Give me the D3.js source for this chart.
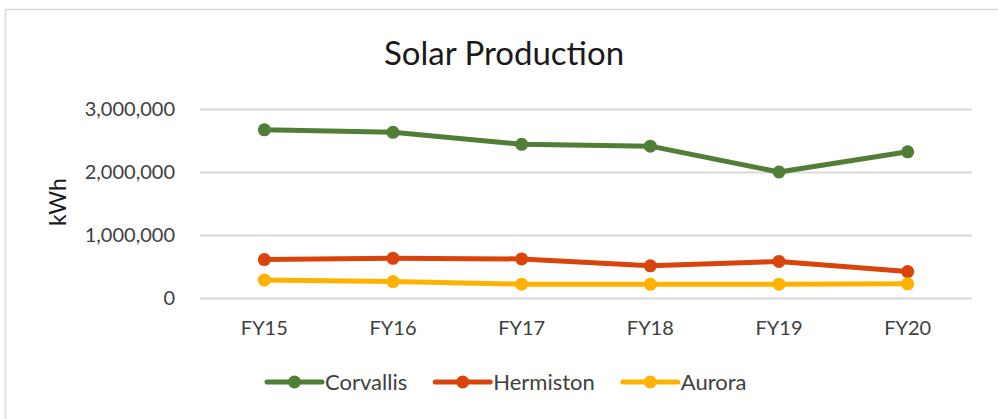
<!DOCTYPE html>
<html>
<head>
<meta charset="utf-8">
<script src="https://cdn.jsdelivr.net/npm/d3@7"></script>
<style>
  body { margin: 0; background: #fff; }
  text { font-family: Lato, "Liberation Sans", sans-serif; }
</style>
</head>
<body>
<div id="chart"></div>
<script>
// datos
var years = ["FY15", "FY16", "FY17", "FY18", "FY19", "FY20"];
var corvallis = [2670000, 2630000, 2440000, 2410000, 2000000, 2320000];
var hermiston = [610000, 630000, 620000, 510000, 580000, 420000];
var aurora = [285000, 260000, 220000, 217000, 220000, 225000];
var yTicks = [0, 1000000, 2000000, 3000000];

var series = [
  { name: "Corvallis", values: corvallis, color: "#507e36" },
  { name: "Hermiston", values: hermiston, color: "#d9440c" },
  { name: "Aurora", values: aurora, color: "#ffb300" }
];

var W = 998, H = 419;
var plotL = 200, plotR = 972, plotT = 109, plotB = 298;

var svg = d3.select("#chart").append("svg")
    .attr("width", W)
    .attr("height", H);

// marco
svg.append("rect")
    .attr("x", 5.5).attr("y", 9.5)
    .attr("width", 1000).attr("height", 420)
    .attr("fill", "none")
    .attr("stroke", "#d9d9d9")
    .attr("stroke-width", 1.5);

var x = d3.scaleBand().domain(years).range([plotL, plotR]);
var y = d3.scaleLinear().domain([0, 3000000]).range([plotB, plotT]);
var cx = function(d) { return x(d) + x.bandwidth() / 2; };

// titulo
svg.append("text")
    .attr("x", 504).attr("y", 65)
    .attr("text-anchor", "middle")
    .attr("font-size", 33)
    .attr("fill", "#1a1a1a")
    .text("Solar Production");

// eje Y con lineas de cuadricula
var gy = svg.append("g")
    .attr("transform", "translate(" + plotL + ",0)")
    .call(d3.axisLeft(y).tickValues(yTicks).tickFormat(d3.format(","))
        .tickSize(-(plotR - plotL)).tickPadding(25));
gy.select(".domain").remove();
gy.selectAll(".tick line").attr("stroke", "#d9d9d9").attr("stroke-width", 2);
gy.selectAll(".tick text").attr("font-size", 20).attr("fill", "#404040")
    .attr("font-family", "Lato, sans-serif");

// eje X
var gx = svg.append("g")
    .attr("transform", "translate(0," + plotB + ")")
    .call(d3.axisBottom(x).tickSize(0).tickPadding(23));
gx.select(".domain").remove();
gx.selectAll(".tick text").attr("font-size", 20).attr("fill", "#404040")
    .attr("font-family", "Lato, sans-serif");

// etiqueta eje Y
svg.append("text")
    .attr("transform", "translate(66,202) rotate(-90)")
    .attr("text-anchor", "middle")
    .attr("font-size", 23)
    .attr("fill", "#1a1a1a")
    .text("kWh");

// lineas
var line = d3.line()
    .x(function(d, i) { return cx(years[i]); })
    .y(function(d) { return y(d); });

series.forEach(function(s) {
  var g = svg.append("g");
  g.append("path")
      .datum(s.values)
      .attr("d", line)
      .attr("fill", "none")
      .attr("stroke", s.color)
      .attr("stroke-width", 5)
      .attr("stroke-linejoin", "round")
      .attr("stroke-linecap", "round");
  g.selectAll("circle")
      .data(s.values)
    .enter()
      .append("circle")
      .attr("cx", function(d, i) { return cx(years[i]); })
      .attr("cy", function(d) { return y(d); })
      .attr("r", 6.5)
      .attr("fill", s.color);
});

// leyenda
var lx = 267, ly = 382;
series.forEach(function(s) {
  var g = svg.append("g");
  g.append("line")
      .attr("x1", lx).attr("x2", lx + 55)
      .attr("y1", ly).attr("y2", ly)
      .attr("stroke", s.color).attr("stroke-width", 5)
      .attr("stroke-linecap", "round");
  g.append("circle")
      .attr("cx", lx + 27.5).attr("cy", ly).attr("r", 6.5)
      .attr("fill", s.color);
  var t = g.append("text")
      .attr("x", lx + 58).attr("y", ly)
      .attr("dy", "0.35em")
      .attr("font-size", 22)
      .attr("fill", "#404040")
      .text(s.name);
  lx = lx + 58 + t.node().getComputedTextLength() + 28;
});
</script>
</body>
</html>
